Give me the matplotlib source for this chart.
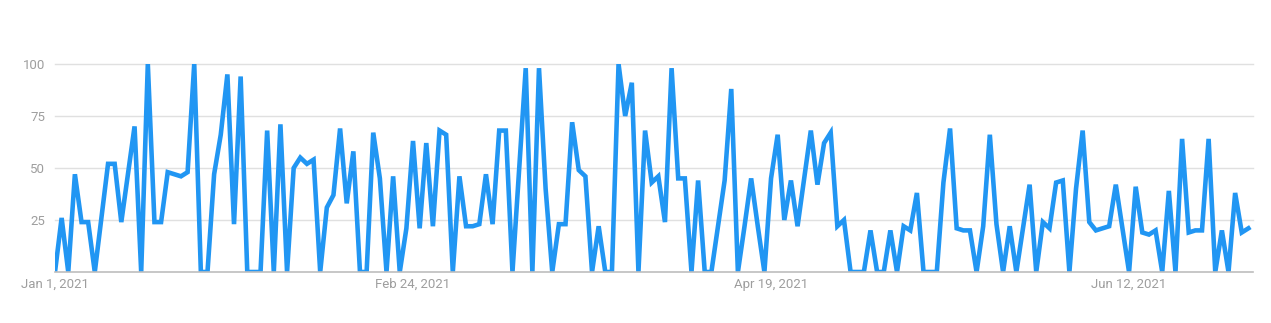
import matplotlib
matplotlib.use("Agg")
import matplotlib.pyplot as plt
import numpy as np

values = [
    0, 26, 0, 47, 24, 24, 0, 26, 52, 52,
    24, 47, 70, 0, 100, 24, 24, 48, 47, 46,
    48, 100, 0, 0, 47, 66, 95, 23, 94, 0,
    0, 0, 68, 0, 71, 0, 50, 55, 52, 54,
    0, 31, 37, 69, 33, 58, 0, 0, 67, 45,
    0, 46, 0, 21, 63, 21, 62, 22, 68, 66,
    0, 46, 22, 22, 23, 47, 23, 68, 68, 0,
    49, 98, 0, 98, 40, 0, 23, 23, 72, 49,
    46, 0, 22, 0, 0, 100, 75, 91, 0, 68,
    43, 46, 24, 98, 45, 45, 0, 44, 0, 0,
    22, 44, 88, 0, 22, 45, 22, 0, 45, 66,
    25, 44, 22, 45, 68, 42, 62, 67, 22, 25,
    0, 0, 0, 20, 0, 0, 20, 0, 22, 20,
    38, 0, 0, 0, 43, 69, 21, 20, 20, 0,
    22, 66, 23, 0, 22, 0, 21, 42, 0, 24,
    21, 43, 44, 0, 40, 68, 24, 20, 21, 22,
    42, 21, 0, 41, 19, 18, 20, 0, 39, 0,
    64, 19, 20, 20, 64, 0, 20, 0, 38, 19,
    21,
]
tick_days = [0, 54, 108, 162]
tick_labels = ["Jan 1, 2021", "Feb 24, 2021", "Apr 19, 2021", "Jun 12, 2021"]
y_ticks = [25, 50, 75, 100]

plt.rcParams['font.family'] = ['Roboto', 'DejaVu Sans']

W, H = 1271, 323
fig = plt.figure(figsize=(W / 100, H / 100), dpi=100)
left, right, bottom, top = 55, 1253, 272, 64
ax = fig.add_axes([left / W, 1 - bottom / H, (right - left) / W, (bottom - top) / H])

days = np.arange(len(values))
ax.set_xlim(0, (right - left) / 6.63)
ax.set_ylim(0, 100)

for yv in y_ticks:
    ax.axhline(yv, color='#e0e0e0', lw=1, zorder=0, clip_on=False)
ax.axhline(0, color='#bdbdbd', lw=1.2, zorder=4, clip_on=False)

ax.plot(days, values, color='#2196f3', lw=3.3, solid_joinstyle='miter',
        clip_on=True, zorder=3)

for s in ax.spines.values():
    s.set_visible(False)
ax.set_yticks([0] + y_ticks)
ax.set_yticklabels([""] + [str(v) for v in y_ticks])
ax.set_xticks(tick_days)
ax.set_xticklabels(tick_labels)
ax.tick_params(axis='both', length=0, colors='#9e9e9e', labelsize=9.5)
ax.tick_params(axis='y', pad=7)
ax.tick_params(axis='x', pad=4)

fig.savefig("out.png", dpi=100, facecolor='white')
